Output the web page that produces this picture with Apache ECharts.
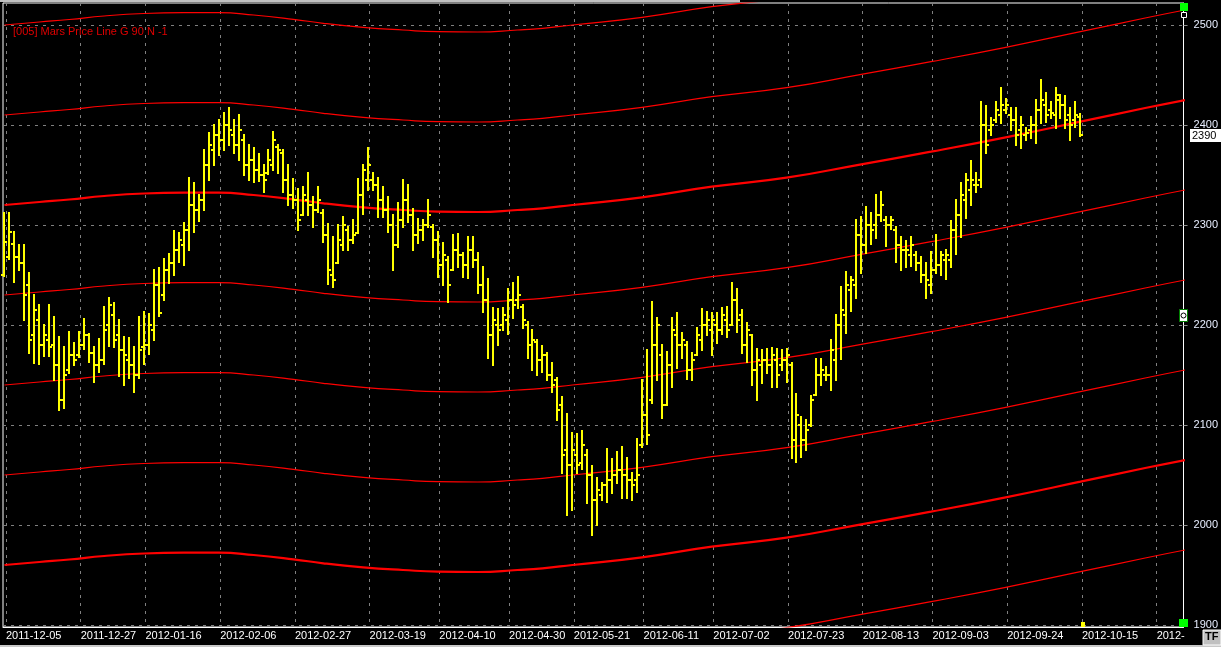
<!DOCTYPE html>
<html><head><meta charset="utf-8">
<script src="https://cdn.jsdelivr.net/npm/echarts@6/dist/echarts.min.js"></script>
<style>html,body{margin:0;padding:0;background:#000;overflow:hidden}#c{width:1221px;height:647px}</style>
</head><body><div id="c"></div>
<script>
// ---- tick labels ----
const labelIdx = [0,15,28,43,58,73,87,101,114,128,142,157,172,186,201,216,231];
const labelText = ["2011-12-05","2011-12-27","2012-01-16","2012-02-06","2012-02-27","2012-03-19","2012-04-10","2012-04-30","2012-05-21","2012-06-11","2012-07-02","2012-07-23","2012-08-13","2012-09-03","2012-09-24","2012-10-15","2012-"];
const yTicks = [1900,2000,2100,2200,2300,2400,2500];
const legendText = "[005] Mars Price Line G 90 N -1";
const lastPrice = 2390;

// ---- OHLC values, one per bar ----
const opens = [2250,2268,2281,2268,2262,2240,2190,2205,2180,2185,2180,2160,2125,2155,2170,2170,2180,2190,2172,2160,
2165,2200,2210,2190,2175,2165,2160,2150,2178,2180,2195,2240,2230,2255,2262,2275,2280,2295,2320,2315,
2325,2360,2375,2390,2385,2400,2390,2380,2385,2360,2365,2355,2350,2352,2360,2378,2372,2345,2330,2325,
2310,2325,2320,2315,2312,2290,2250,2262,2280,2295,2285,2292,2330,2345,2345,2340,2325,2315,2300,2280,
2305,2325,2310,2290,2295,2300,2298,2285,2260,2265,2255,2275,2270,2260,2275,2265,2240,2225,2190,2200,
2200,2205,2225,2225,2218,2200,2180,2183,2165,2170,2150,2145,2120,2075,2060,2070,2062,2070,2050,2025,
2030,2040,2045,2050,2055,2050,2045,2045,2080,2110,2125,2180,2170,2120,2160,2190,2180,2180,2155,2170,
2185,2200,2195,2200,2195,2205,2200,2225,2210,2180,2190,2155,2160,2165,2160,2165,2160,2165,2160,2085,
2100,2085,2100,2130,2150,2150,2150,2165,2200,2210,2235,2240,2290,2280,2300,2300,2310,2305,2300,2295,
2280,2275,2270,2270,2262,2250,2240,2255,2260,2265,2265,2295,2310,2325,2335,2340,2345,2400,2395,2405,
2410,2415,2410,2405,2395,2390,2395,2400,2415,2420,2415,2410,2425,2420,2410,2405,2408];
const highs = [2312,2312,2293,2280,2280,2252,2230,2220,2200,2220,2208,2188,2178,2193,2182,2193,2206,2191,2178,2186,
2218,2227,2222,2205,2188,2187,2178,2208,2213,2211,2255,2257,2266,2271,2294,2292,2302,2347,2342,2330,
2375,2392,2400,2405,2412,2417,2405,2410,2390,2380,2377,2371,2360,2375,2393,2380,2375,2360,2346,2336,
2338,2352,2328,2338,2315,2301,2288,2300,2308,2298,2305,2346,2360,2377,2352,2347,2338,2328,2310,2322,
2345,2340,2316,2306,2305,2325,2300,2293,2282,2268,2290,2291,2272,2288,2288,2272,2258,2246,2217,2216,
2217,2236,2242,2248,2220,2203,2195,2185,2179,2172,2162,2147,2128,2111,2092,2091,2094,2075,2059,2047,
2042,2076,2066,2073,2078,2067,2052,2086,2145,2175,2223,2207,2180,2173,2207,2212,2192,2183,2172,2197,
2216,2213,2212,2212,2217,2218,2242,2236,2215,2202,2190,2176,2175,2176,2177,2176,2175,2176,2162,2131,
2108,2105,2129,2166,2166,2158,2185,2210,2238,2253,2248,2305,2308,2318,2312,2330,2333,2308,2308,2298,
2288,2284,2288,2273,2268,2262,2273,2290,2273,2275,2304,2325,2342,2351,2364,2352,2423,2419,2407,2423,
2437,2426,2417,2417,2408,2397,2408,2425,2445,2432,2423,2437,2430,2429,2417,2423,2411];
const lows = [2249,2266,2243,2255,2205,2172,2162,2161,2169,2169,2145,2115,2117,2152,2160,2168,2176,2163,2143,2153,
2161,2179,2178,2149,2140,2147,2133,2147,2161,2171,2185,2209,2225,2242,2250,2263,2260,2275,2293,2304,
2315,2345,2360,2370,2375,2380,2372,2365,2350,2345,2343,2344,2333,2351,2355,2352,2333,2320,2317,2295,
2310,2310,2298,2313,2283,2241,2238,2262,2275,2275,2282,2292,2311,2335,2335,2308,2308,2293,2255,2278,
2298,2303,2275,2282,2285,2298,2268,2248,2240,2223,2255,2258,2248,2247,2258,2232,2213,2167,2160,2180,
2195,2191,2207,2217,2197,2167,2155,2150,2153,2145,2133,2105,2052,2010,2015,2052,2056,2022,1990,2000,
2025,2023,2032,2042,2027,2027,2025,2033,2078,2081,2122,2145,2107,2120,2138,2157,2167,2146,2145,2170,
2175,2190,2170,2182,2191,2188,2200,2193,2172,2163,2140,2125,2142,2152,2138,2138,2155,2143,2067,2063,
2068,2075,2099,2130,2140,2145,2135,2145,2166,2192,2214,2227,2252,2272,2281,2287,2304,2279,2296,2263,
2255,2258,2259,2255,2243,2227,2232,2252,2250,2246,2258,2271,2288,2307,2320,2333,2338,2372,2390,2403,
2402,2412,2395,2380,2377,2385,2387,2382,2402,2403,2407,2397,2407,2397,2385,2398,2389];
const closes = [2283,2293,2268,2262,2230,2185,2215,2180,2190,2178,2160,2125,2150,2170,2165,2180,2190,2172,2160,2165,
2195,2220,2185,2175,2170,2160,2150,2175,2180,2200,2240,2212,2255,2262,2275,2285,2295,2320,2315,2325,
2360,2380,2390,2385,2400,2395,2380,2395,2360,2365,2355,2350,2345,2365,2385,2375,2345,2330,2325,2305,
2330,2320,2315,2325,2290,2255,2245,2285,2300,2285,2290,2330,2355,2360,2340,2325,2315,2300,2280,2305,
2325,2310,2290,2295,2300,2310,2285,2260,2270,2240,2275,2270,2260,2275,2265,2240,2225,2190,2205,2195,
2210,2225,2220,2230,2205,2180,2185,2165,2170,2150,2140,2115,2070,2060,2075,2060,2080,2050,2025,2035,
2040,2045,2050,2055,2050,2045,2040,2050,2110,2090,2180,2200,2120,2160,2195,2180,2185,2155,2165,2190,
2200,2205,2205,2195,2210,2195,2225,2205,2180,2195,2155,2165,2165,2160,2170,2150,2165,2170,2085,2110,
2085,2095,2125,2150,2155,2150,2175,2200,2215,2240,2245,2290,2280,2300,2295,2310,2320,2300,2305,2280,
2275,2275,2280,2262,2250,2245,2255,2260,2270,2270,2295,2310,2330,2345,2345,2340,2400,2380,2400,2415,
2420,2420,2405,2390,2400,2392,2400,2415,2425,2410,2412,2430,2420,2405,2400,2410,2390];

// ---- Mars price line: base curve samples (bar index, price) and band offsets ----
const baseIdx = [0,7,13,20,28,36,43,50,58,64,72,80,87,95,103,108,114,128,142,157,172,186,201,216,229,237];
const baseVal = [2320,2323,2325.5,2329,2331.5,2332.3,2332.3,2330,2325.7,2321.7,2317.7,2315,2313.3,2313,2315,2316.7,2320,2327.7,2338.3,2347.3,2360.7,2373.3,2387.7,2403.3,2417,2425];
const bandOffsets = [180,90,0,-90,-180,-270,-360,-450];
const bandThick = [false,false,true,false,false,false,true,false];

const TICK_SHIFT = 0.3;
const xTickVals = labelIdx.map(v => v + TICK_SHIFT);

const ohlc = opens.map((o, i) => [i, o, highs[i], lows[i], closes[i]]);

const chart = echarts.init(document.getElementById('c'), null, {renderer: 'canvas'});

const series = bandOffsets.map((off, k) => ({
  type: 'line',
  data: baseIdx.map((ix, j) => [ix, baseVal[j] + off]),
  smooth: true,
  symbol: 'none',
  clip: true,
  lineStyle: {color: '#ff0000', width: bandThick[k] ? 2.2 : 1.2},
  z: 2,
  silent: true
}));

series.push({
  type: 'custom',
  data: ohlc,
  encode: {x: 0, y: [1, 2, 3, 4]},
  z: 5,
  clip: false,
  renderItem: function (params, api) {
    const x = api.value(0);
    const o = api.coord([x, api.value(1)]);
    const h = api.coord([x, api.value(2)]);
    const l = api.coord([x, api.value(3)]);
    const c = api.coord([x, api.value(4)]);
    const px = Math.round(o[0]);
    const yh = Math.round(h[1]), yl = Math.round(l[1]);
    const yo = Math.round(o[1]), yc = Math.round(c[1]);
    const st = {fill: '#ffff00'};
    return {type: 'group', children: [
      {type: 'rect', shape: {x: px - 1, y: yh - 1, width: 2, height: yl - yh + 2}, style: st},
      {type: 'rect', shape: {x: px - 3, y: yo - 1, width: 3, height: 2}, style: st},
      {type: 'rect', shape: {x: px, y: yc - 1, width: 3, height: 2}, style: st}
    ]};
  }
});

const FONT = 'Liberation Sans, Arial, sans-serif';

chart.setOption({
  animation: false,
  backgroundColor: '#000',
  grid: {left: 3, right: 33, top: 3, bottom: 20, show: true, borderColor: '#ffffff', borderWidth: 1, backgroundColor: '#000'},
  xAxis: {
    type: 'value', min: -0.3, max: 236.7, position: 'bottom',
    axisLine: {show: true, onZero: false, lineStyle: {color: '#ffffff', width: 1}},
    axisTick: {show: false, customValues: xTickVals},
    axisLabel: {
      customValues: xTickVals, color: '#ffffff', fontSize: 11, fontFamily: FONT, align: 'left', margin: 3,
      formatter: function (v) {
        let best = 0, bd = 1e9;
        for (let i = 0; i < xTickVals.length; i++) { const d = Math.abs(xTickVals[i] - v); if (d < bd) { bd = d; best = i; } }
        return labelText[best];
      }
    },
    splitLine: {show: true, lineStyle: {color: '#808080', type: [3, 5], width: 1}}
  },
  yAxis: {
    type: 'value', position: 'right', min: 1898, max: 2522,
    axisLine: {show: true, onZero: false, lineStyle: {color: '#ffffff', width: 1}},
    axisTick: {show: true, customValues: yTicks, length: 4, lineStyle: {color: '#909090'}},
    axisLabel: {customValues: yTicks, color: '#e8eeff', fontSize: 11, fontFamily: FONT, margin: 10,
      formatter: function (v) { return String(Math.round(v)); }},
    splitLine: {show: true, lineStyle: {color: '#808080', type: [3, 5], width: 1}}
  },
  series: series
});

const py = chart.convertToPixel({yAxisIndex: 0}, lastPrice);
const lastX = chart.convertToPixel({xAxisIndex: 0}, opens.length - 1);

chart.setOption({
  graphic: [
    {type: 'rect', shape: {x: 0, y: 0, width: 740, height: 2}, style: {fill: '#c0c0c0'}, z: 100},
    {type: 'rect', shape: {x: 0, y: 645, width: 1221, height: 2}, style: {fill: '#c8c8c8'}, z: 100},
    {type: 'text', x: 13, y: 26, style: {text: legendText, fill: '#e00000', font: '11px ' + FONT}, z: 100},
    {type: 'rect', shape: {x: 1190, y: Math.round(py) - 6, width: 31, height: 13}, style: {fill: '#ffffff'}, z: 100},
    {type: 'text', x: 1192, y: Math.round(py) - 5, style: {text: String(lastPrice), fill: '#000', font: '11px ' + FONT}, z: 101},
    {type: 'rect', shape: {x: 1180, y: 3, width: 8, height: 8}, style: {fill: '#00ff00'}, z: 100},
    {type: 'rect', shape: {x: 1181.5, y: 12.5, width: 5, height: 5}, style: {fill: '#000', stroke: '#ffffff', lineWidth: 1}, z: 100},
    {type: 'rect', shape: {x: 1179.5, y: 309.5, width: 8, height: 12}, style: {fill: '#ffffff', stroke: '#008000', lineWidth: 1}, z: 100},
    {type: 'circle', shape: {cx: 1183.5, cy: 315.5, r: 2.5}, style: {fill: 'none', stroke: '#000', lineWidth: 1}, z: 101},
    {type: 'rect', shape: {x: 1179, y: 619, width: 9, height: 8}, style: {fill: '#00ff00'}, z: 100},
    {type: 'rect', shape: {x: Math.round(lastX) + 1, y: 622, width: 4, height: 5}, style: {fill: '#ffff00'}, z: 100},
    {type: 'rect', shape: {x: 1203, y: 630, width: 18, height: 15}, style: {fill: '#c0c0c0', stroke: '#ffffff', lineWidth: 1}, z: 100},
    {type: 'text', x: 1205, y: 631, style: {text: 'TF', fill: '#000', font: 'bold 11px ' + FONT}, z: 101}
  ]
});
</script>
</body></html>
